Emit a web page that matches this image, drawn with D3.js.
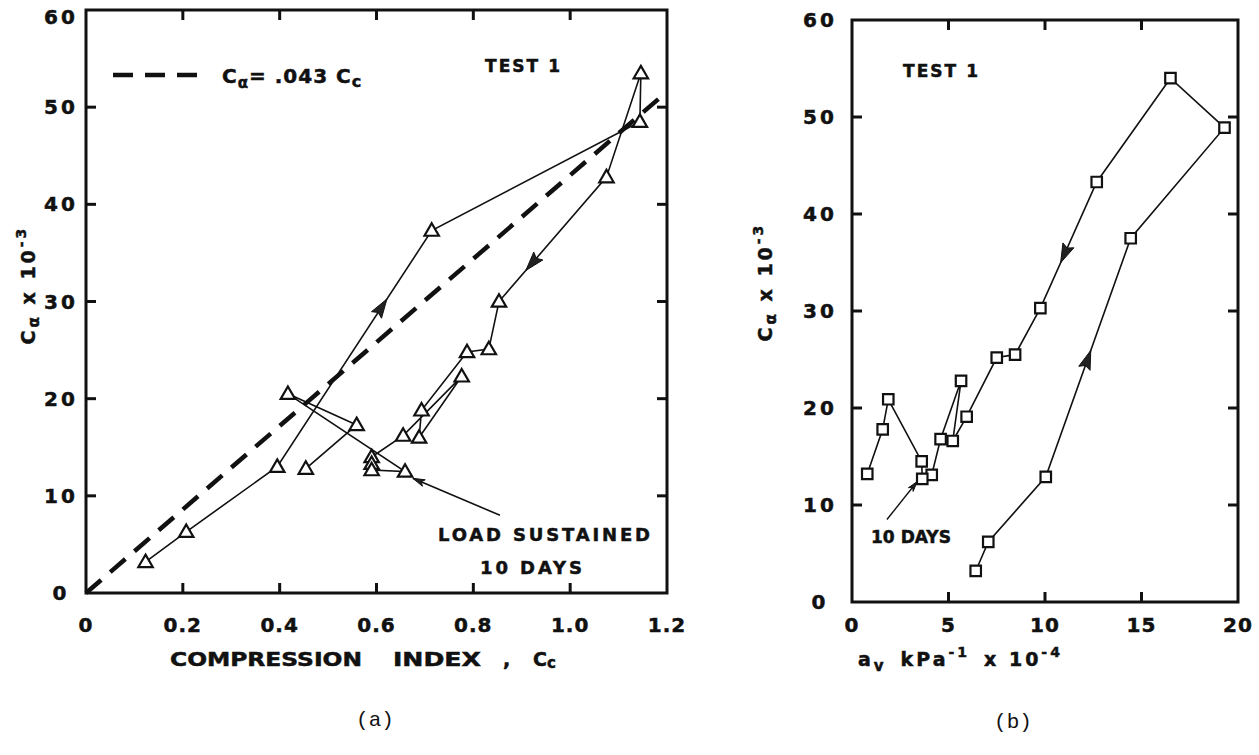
<!DOCTYPE html>
<html>
<head>
<meta charset="utf-8">
<script src="https://cdn.jsdelivr.net/npm/d3@7"></script>
<style>
  body { margin: 0; background: #fff; }
  svg text { font-family: "DejaVu Sans", sans-serif; font-weight: bold; fill: #111; stroke: #111; stroke-width: 0.5; }
  svg text.cap { font-family: "Liberation Mono", monospace; font-weight: normal; stroke: none; }
</style>
</head>
<body>
<svg id="chart" width="1259" height="755"></svg>
<script>
// ---- Panel (a): secondary compression index vs compression index (loading order) ----
const ccValues   = [0.123, 0.207, 0.395, 0.714, 1.144, 1.146, 1.075, 0.853, 0.832, 0.787, 0.693,
                    0.688, 0.776, 0.655, 0.590, 0.590, 0.590, 0.659, 0.417, 0.559, 0.454];
const calphaA    = [3.2, 6.3, 13.0, 37.3, 48.5, 53.5, 42.8, 30.0, 25.1, 24.8, 18.8,
                    16.0, 22.3, 16.2, 14.0, 13.3, 12.65, 12.5, 20.5, 17.3, 12.8];
// ---- Panel (b): secondary compression index vs coefficient of compressibility ----
const avValues   = [6.41, 7.06, 10.04, 14.44, 19.3, 16.5, 12.68, 9.76, 8.45, 7.5,
                    5.94, 5.22, 5.65, 4.59, 4.13, 3.64, 3.61, 1.88, 1.59, 0.79];
const calphaB    = [3.2, 6.2, 12.9, 37.5, 48.9, 54.0, 43.3, 30.3, 25.5, 25.2,
                    19.1, 16.6, 22.8, 16.8, 13.1, 12.7, 14.5, 20.9, 17.8, 13.2];

// Correlation line C_alpha = 0.043 Cc (values in units of 10^-3)
const corrSlope  = 0.043;
const corrCc     = [0, 1.185];

// Axis ticks
const ccTicks     = [0, 0.2, 0.4, 0.6, 0.8, 1.0, 1.2];
const ccLabels    = ["0", "0.2", "0.4", "0.6", "0.8", "1.0", "1.2"];
const avTicks     = [0, 5, 10, 15, 20];
const avLabels    = ["0", "5", "10", "15", "20"];
const calphaTicks = [0, 10, 20, 30, 40, 50, 60];
const calphaLabels= ["0", "10", "20", "30", "40", "50", "60"];

// Direction arrows: segment index (from point i to i+1) and fraction along it
const arrowsA = [{ seg: 2, t: 0.71 }, { seg: 6, t: 0.75 }];
const arrowsB = [{ seg: 2, t: 0.53 }, { seg: 6, t: 0.64 }];

// "10 days" callouts: [start, tip] in data units
const calloutA = [[0.855, 8.0], [0.675, 11.8]];
const calloutB = [[1.81, 8.5], [3.37, 12.4]];

const svg = d3.select("#chart");

const xA = d3.scaleLinear().domain([0, 1.2]).range([86, 667]);
const yA = d3.scaleLinear().domain([0, 60]).range([593, 10]);
const xB = d3.scaleLinear().domain([0, 20]).range([852, 1238]);
const yB = d3.scaleLinear().domain([0, 60]).range([602, 20]);

function frame(x, y, xt, yt) {
  const g = svg.append("g");
  const [x0, x1] = x.range(), [y0, y1] = y.range();
  const tick = 10;
  g.append("rect").attr("x", x0).attr("y", y1).attr("width", x1 - x0).attr("height", y0 - y1)
    .attr("fill", "none").attr("stroke", "#111").attr("stroke-width", 3);
  const inner = xt.slice(1, -1), innerY = yt.slice(1, -1);
  inner.forEach(v => {
    g.append("line").attr("x1", x(v)).attr("x2", x(v)).attr("y1", y0).attr("y2", y0 - tick)
      .attr("stroke", "#111").attr("stroke-width", 3);
    g.append("line").attr("x1", x(v)).attr("x2", x(v)).attr("y1", y1).attr("y2", y1 + tick)
      .attr("stroke", "#111").attr("stroke-width", 3);
  });
  innerY.forEach(v => {
    g.append("line").attr("x1", x0).attr("x2", x0 + tick).attr("y1", y(v)).attr("y2", y(v))
      .attr("stroke", "#111").attr("stroke-width", 3);
    g.append("line").attr("x1", x1).attr("x2", x1 - tick).attr("y1", y(v)).attr("y2", y(v))
      .attr("stroke", "#111").attr("stroke-width", 3);
  });
  return g;
}

function tickLabels(x, y, xt, xl, yt, yl, yLabelX, xLabelY) {
  const g = svg.append("g");
  xt.forEach((v, i) => g.append("text").attr("x", x(v)).attr("y", xLabelY)
    .attr("text-anchor", "middle").attr("font-size", 20).attr("letter-spacing", 1).text(xl[i]));
  // keep the top label fully inside the page
  yt.forEach((v, i) => g.append("text").attr("x", yLabelX).attr("y", Math.max(y(v) + 7, 24))
    .attr("text-anchor", "middle").attr("font-size", 20).attr("letter-spacing", 3).text(yl[i]));
}

function arrowHead(g, p, q, len, half) {
  // filled head with tip at q, pointing from p to q
  const dx = q[0] - p[0], dy = q[1] - p[1], d = Math.hypot(dx, dy);
  const ux = dx / d, uy = dy / d;
  const bx = q[0] - ux * len, by = q[1] - uy * len;
  g.append("path")
    .attr("d", `M${q[0]},${q[1]}L${bx - uy * half},${by + ux * half}L${bx + ux * 3},${by + uy * 3}L${bx + uy * half},${by - ux * half}Z`)
    .attr("fill", "#222").attr("stroke", "#111").attr("stroke-width", 1);
}

function series(x, y, xs, ys, marker, arrows) {
  const g = svg.append("g");
  const pts = xs.map((v, i) => [x(v), y(ys[i])]);
  g.append("path").attr("d", d3.line()(pts)).attr("fill", "none")
    .attr("stroke", "#111").attr("stroke-width", 1.6);
  arrows.forEach(a => {
    const p = pts[a.seg], q = pts[a.seg + 1];
    const tip = [p[0] + (q[0] - p[0]) * a.t, p[1] + (q[1] - p[1]) * a.t];
    arrowHead(g, p, tip, 19, 6);
  });
  const sym = marker === "tri" ? d3.symbolTriangle : d3.symbolSquare;
  const size = marker === "tri" ? 90 : 110;
  g.selectAll(".m").data(pts).join("path")
    .attr("transform", d => `translate(${d[0]},${d[1] + (marker === "tri" ? 1 : 0)})`)
    .attr("d", d3.symbol().type(sym).size(size))
    .attr("fill", "#fff").attr("stroke", "#111").attr("stroke-width", 2.2);
}

// ----- Panel (a) -----
frame(xA, yA, ccTicks, calphaTicks);
tickLabels(xA, yA, ccTicks, ccLabels, calphaTicks, calphaLabels, 61, 632);

// correlation line
svg.append("line")
  .attr("x1", xA(corrCc[0])).attr("y1", yA(corrSlope * 1000 * corrCc[0]))
  .attr("x2", xA(corrCc[1])).attr("y2", yA(corrSlope * 1000 * corrCc[1]))
  .attr("stroke", "#111").attr("stroke-width", 4.5).attr("stroke-dasharray", "20,12");

series(xA, yA, ccValues, calphaA, "tri", arrowsA);

// legend
svg.append("line").attr("x1", 113).attr("x2", 203).attr("y1", 75).attr("y2", 75)
  .attr("stroke", "#111").attr("stroke-width", 4.5).attr("stroke-dasharray", "20,12");
const leg = svg.append("text").attr("x", 222).attr("y", 83).attr("font-size", 20).attr("letter-spacing", 1);
leg.append("tspan").text("C");
leg.append("tspan").attr("font-size", 15).attr("dy", 5).text("α");
leg.append("tspan").attr("dy", -5).text("= .043 C");
leg.append("tspan").attr("font-size", 16).attr("dy", 4).text("c");

svg.append("text").attr("x", 485).attr("y", 72).attr("font-size", 17)
  .attr("textLength", 75).attr("lengthAdjust", "spacing").text("TEST 1");

svg.append("text").attr("x", 438).attr("y", 541).attr("font-size", 18)
  .attr("textLength", 212).attr("lengthAdjust", "spacing").text("LOAD  SUSTAINED");
svg.append("text").attr("x", 480).attr("y", 574).attr("font-size", 18)
  .attr("textLength", 102).attr("lengthAdjust", "spacing").text("10  DAYS");

{
  const g = svg.append("g");
  const p = [xA(calloutA[0][0]), yA(calloutA[0][1])], q = [xA(calloutA[1][0]), yA(calloutA[1][1])];
  g.append("line").attr("x1", p[0]).attr("y1", p[1]).attr("x2", q[0]).attr("y2", q[1])
    .attr("stroke", "#111").attr("stroke-width", 1.6);
  arrowHead(g, p, q, 12, 3.5);
}

// axis titles (a)
[["COMPRESSION", 170, 192], ["INDEX", 393, 88]].forEach(([w, x, len]) =>
  svg.append("text").attr("x", x).attr("y", 666).attr("font-size", 19)
    .attr("textLength", len).attr("lengthAdjust", "spacingAndGlyphs").text(w));
svg.append("text").attr("x", 503).attr("y", 666).attr("font-size", 19).text(",");
{
  const t = svg.append("text").attr("x", 533).attr("y", 666).attr("font-size", 19);
  t.append("tspan").text("C");
  t.append("tspan").attr("font-size", 15).attr("dy", 2).text("c");
}
function yTitle(cx, cy) {
  const t = svg.append("text").attr("transform", `translate(${cx},${cy}) rotate(-90)`)
    .attr("text-anchor", "middle").attr("font-size", 19).attr("letter-spacing", 3);
  t.append("tspan").text("C");
  t.append("tspan").attr("font-size", 15).attr("dy", 4).text("α");
  t.append("tspan").attr("dy", -4).text("  x  10");
  t.append("tspan").attr("font-size", 14).attr("dy", -9).text("-3");
}
yTitle(35, 285);

svg.append("text").attr("class", "cap").attr("x", 375).attr("y", 726)
  .attr("text-anchor", "middle").attr("font-size", 21).text("(a)");

// ----- Panel (b) -----
frame(xB, yB, avTicks, calphaTicks);
tickLabels(xB, yB, avTicks, avLabels, calphaTicks, calphaLabels, 820, 632);
series(xB, yB, avValues, calphaB, "sq", arrowsB);

svg.append("text").attr("x", 903).attr("y", 77).attr("font-size", 17)
  .attr("textLength", 75).attr("lengthAdjust", "spacing").text("TEST 1");
svg.append("text").attr("x", 871).attr("y", 543).attr("font-size", 17)
  .attr("textLength", 80).attr("lengthAdjust", "spacingAndGlyphs").text("10 DAYS");
{
  const g = svg.append("g");
  const p = [xB(calloutB[0][0]), yB(calloutB[0][1])], q = [xB(calloutB[1][0]), yB(calloutB[1][1])];
  g.append("line").attr("x1", p[0]).attr("y1", p[1]).attr("x2", q[0]).attr("y2", q[1])
    .attr("stroke", "#111").attr("stroke-width", 1.4);
  arrowHead(g, p, q, 10, 3);
}

{
  const t = svg.append("text").attr("x", 858).attr("y", 666).attr("font-size", 19).attr("letter-spacing", 3);
  t.append("tspan").text("a");
  t.append("tspan").attr("font-size", 15).attr("dy", 5).text("v");
  t.append("tspan").attr("dy", -5).attr("dx", 14).text("kPa");
  t.append("tspan").attr("font-size", 14).attr("dy", -9).text("-1");
  t.append("tspan").attr("dy", 9).attr("dx", 14).text("x  10");
  t.append("tspan").attr("font-size", 14).attr("dy", -9).text("-4");
}
yTitle(772, 282);

svg.append("text").attr("class", "cap").attr("x", 1013).attr("y", 728)
  .attr("text-anchor", "middle").attr("font-size", 21).text("(b)");
</script>
</body>
</html>
